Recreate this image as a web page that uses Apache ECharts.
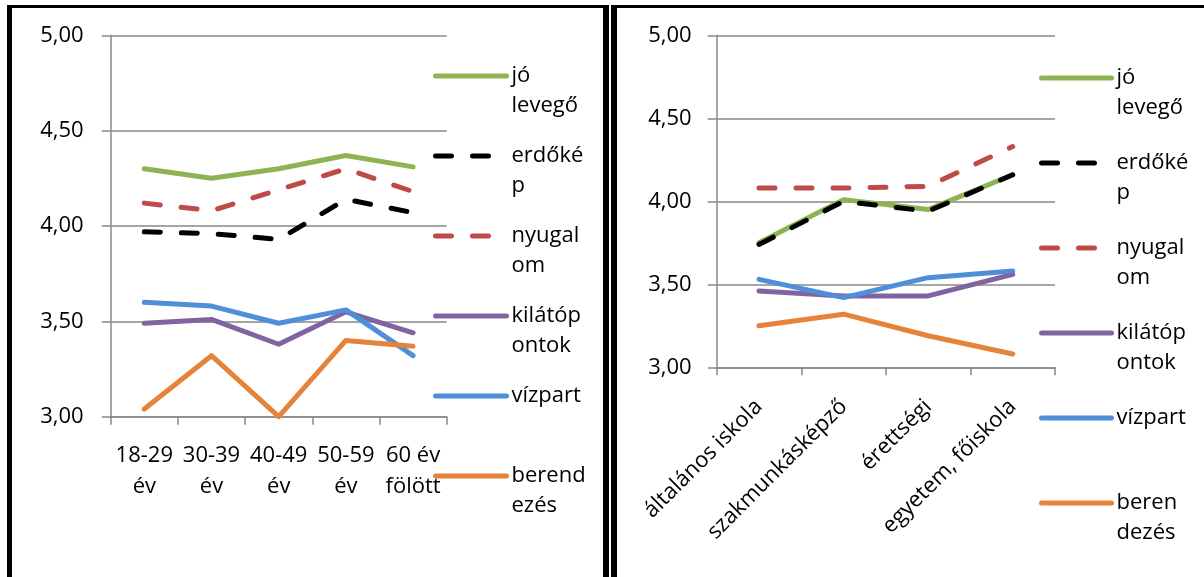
<!DOCTYPE html>
<html>
<head>
<meta charset="utf-8">
<script src="https://cdn.jsdelivr.net/npm/echarts@6/dist/echarts.min.js"></script>
<style>
html,body{margin:0;padding:0;background:#fff;}
#c{width:1204px;height:577px;}
</style>
</head>
<body>
<div id="c"></div>
<script>
// ---- data ----
const seriesNames = ['jó levegő', 'erdőkép', 'nyugalom', 'kilátópontok', 'vízpart', 'berendezés'];
const leftLegendText = ['jó\nlevegő', 'erdőké\np', 'nyugal\nom', 'kilátóp\nontok', 'vízpart', 'berend\nezés'];
const rightLegendText = ['jó\nlevegő', 'erdőké\np', 'nyugal\nom', 'kilátóp\nontok', 'vízpart', 'beren\ndezés'];

const ageCategories = ['18-29\név', '30-39\név', '40-49\név', '50-59\név', '60 év\nfölött'];
const eduCategories = ['általános iskola', 'szakmunkásképző', 'érettségi', 'egyetem, főiskola'];

// by age
const ageJoLevego   = [4.30, 4.25, 4.30, 4.37, 4.31];
const ageErdokep    = [3.97, 3.96, 3.93, 4.14, 4.07];
const ageNyugalom   = [4.12, 4.08, 4.19, 4.30, 4.18];
const ageKilato     = [3.49, 3.51, 3.38, 3.55, 3.44];
const ageVizpart    = [3.60, 3.58, 3.49, 3.56, 3.32];
const ageBerendezes = [3.04, 3.32, 3.00, 3.40, 3.37];

// by education
const eduJoLevego   = [3.75, 4.01, 3.95, 4.16];
const eduErdokep    = [3.74, 4.00, 3.94, 4.16];
const eduNyugalom   = [4.08, 4.08, 4.09, 4.33];
const eduKilato     = [3.46, 3.43, 3.43, 3.56];
const eduVizpart    = [3.53, 3.42, 3.54, 3.58];
const eduBerendezes = [3.25, 3.32, 3.19, 3.08];

// ---- styling ----
const FONT = 'Open Sans';
const colors = ['#8DB353', '#000000', '#BE4B48', '#8064A2', '#4F8FDA', '#E5833B'];
const dashed = [false, true, true, false, false, false];
const gridColor = '#888888';

const ageData = [ageJoLevego, ageErdokep, ageNyugalom, ageKilato, ageVizpart, ageBerendezes];
const eduData = [eduJoLevego, eduErdokep, eduNyugalom, eduKilato, eduVizpart, eduBerendezes];

function makeSeries(dataArr, idx) {
  return seriesNames.map((n, i) => ({
    name: n,
    type: 'line',
    xAxisIndex: idx,
    yAxisIndex: idx,
    data: dataArr[i],
    symbol: 'none',
    animation: false,
    color: colors[i],
    lineStyle: {
      color: colors[i],
      width: 5,
      type: dashed[i] ? [16, 21] : 'solid',
      cap: 'round',
      join: 'round'
    },
    emphasis: { disabled: true }
  }));
}

// Three text lines per legend item so that the first visible line sits beside the icon.
function legendLabel(t) {
  return t.indexOf('\n') >= 0 ? ' \n' + t : ' \n' + t + '\n ';
}

const yLabelFmt = v => v.toFixed(2).replace('.', ',');

function yAxis(idx, margin) {
  return {
    type: 'value', gridIndex: idx, min: 3, max: 5, interval: 0.5,
    axisLine: { show: true, lineStyle: { color: gridColor, width: 1.5 } },
    axisTick: { show: true, length: 9, lineStyle: { color: gridColor, width: 1.5 } },
    splitLine: { show: true, lineStyle: { color: gridColor, width: 1.5 } },
    axisLabel: { formatter: yLabelFmt, fontFamily: FONT, fontSize: 22, color: '#000', margin: margin }
  };
}

const legendCommon = {
  orient: 'vertical', padding: 0, itemHeight: 14, selectedMode: false,
  lineStyle: { width: 5 },
  itemStyle: { opacity: 0 },
  textStyle: { fontFamily: FONT, fontSize: 22, lineHeight: 30, color: '#000' },
  data: seriesNames
};

const chart = echarts.init(document.getElementById('c'));
chart.setOption({
  backgroundColor: '#fff',
  animation: false,
  grid: [
    { left: 110.7, right: 1204 - 446.7, top: 35.3, bottom: 577 - 416.7 },
    { left: 716.7, right: 1204 - 1055, top: 35.3, bottom: 577 - 367.3 }
  ],
  xAxis: [
    {
      type: 'category', gridIndex: 0, data: ageCategories, boundaryGap: true,
      axisLine: { lineStyle: { color: gridColor, width: 1.5 } },
      axisTick: { show: true, length: 8, lineStyle: { color: gridColor, width: 1.5 } },
      axisLabel: { interval: 0, fontFamily: FONT, fontSize: 22, lineHeight: 31, color: '#000', margin: 24 }
    },
    {
      type: 'category', gridIndex: 1, data: eduCategories, boundaryGap: true,
      axisLine: { lineStyle: { color: gridColor, width: 1.5 } },
      axisTick: { show: true, length: 8, lineStyle: { color: gridColor, width: 1.5 } },
      axisLabel: { interval: 0, rotate: 45, fontFamily: FONT, fontSize: 22, color: '#000', margin: 36 }
    }
  ],
  yAxis: [yAxis(0, 27), yAxis(1, 25)],
  legend: [
    Object.assign({}, legendCommon, {
      left: 433, top: 31, itemWidth: 71, itemGap: -10,
      formatter: n => legendLabel(leftLegendText[seriesNames.indexOf(n)])
    }),
    Object.assign({}, legendCommon, {
      left: 1039, top: 33, itemWidth: 70, itemGap: -5,
      formatter: n => legendLabel(rightLegendText[seriesNames.indexOf(n)])
    })
  ],
  graphic: [
    { type: 'rect', silent: true, shape: { x: 7, y: 5, width: 602, height: 3 }, style: { fill: '#000' } },
    { type: 'rect', silent: true, shape: { x: 7, y: 5, width: 5, height: 572 }, style: { fill: '#000' } },
    { type: 'rect', silent: true, shape: { x: 603, y: 5, width: 6, height: 572 }, style: { fill: '#000' } },
    { type: 'rect', silent: true, shape: { x: 611, y: 5, width: 6, height: 572 }, style: { fill: '#000' } },
    { type: 'rect', silent: true, shape: { x: 611, y: 5, width: 593, height: 3 }, style: { fill: '#000' } }
  ],
  series: makeSeries(ageData, 0).concat(makeSeries(eduData, 1))
});
</script>
</body>
</html>
